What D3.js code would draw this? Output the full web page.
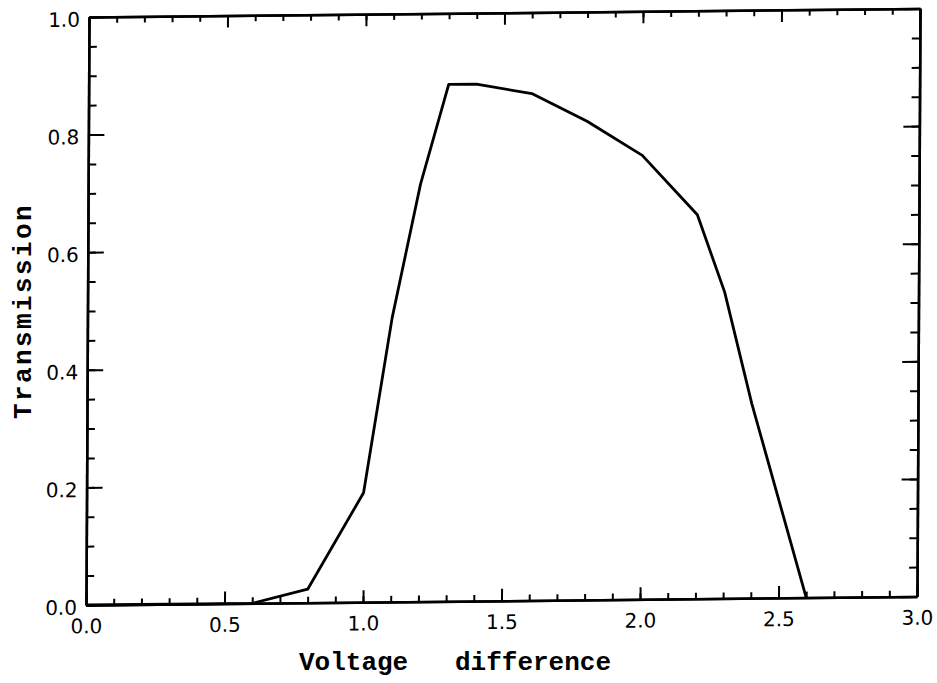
<!DOCTYPE html>
<html>
<head>
<meta charset="utf-8">
<script src="https://cdn.jsdelivr.net/npm/d3@7"></script>
<style>
  html, body { margin: 0; padding: 0; background: #fff; }
  svg { display: block; }
  .tick text { font-family: "DejaVu Sans", sans-serif; font-size: 20px; fill: #000; }
  .title { font-family: "Liberation Mono", "DejaVu Sans Mono", monospace; font-weight: bold; font-size: 26px; fill: #000; white-space: pre; }
</style>
</head>
<body>
<script>
// Data
const voltage = [0.0, 0.6, 0.8, 1.0, 1.1, 1.2, 1.3, 1.4, 1.6, 1.8, 2.0, 2.2, 2.3, 2.4, 2.6];
const transmission = [0.0, 0.0, 0.023, 0.186, 0.483, 0.71, 0.879, 0.879, 0.862, 0.814, 0.755, 0.653, 0.521, 0.331, 0.0];
const xMajorTicks = [0.0, 0.5, 1.0, 1.5, 2.0, 2.5, 3.0];
const xTickLabels = ["0.0", "0.5", "1.0", "1.5", "2.0", "2.5", "3.0"];
const yMajorTicks = [0.0, 0.2, 0.4, 0.6, 0.8, 1.0];
const yTickLabels = ["0.0", "0.2", "0.4", "0.6", "0.8", "1.0"];
const xMinorTicks = d3.range(0, 31).map(i => i / 10);
const yMinorTicks = d3.range(0, 21).map(i => i / 20);
const xTitle = "Voltage   difference";
const yTitle = "Transmission";

const width = 937, height = 683;
const W = 831, H = 588;

const svg = d3.select("body").append("svg")
  .attr("width", width).attr("height", height);

// the scanned original is slightly skewed; reproduce with an affine transform
const g = svg.append("g")
  .attr("transform", "matrix(1,-0.01023,-0.0051,1,89,17)");

const x = d3.scaleLinear().domain([0, 3]).range([0, W]);
const y = d3.scaleLinear().domain([0, 1]).range([H, 0]);

function style(sel) {
  sel.selectAll("path.domain").attr("stroke", "#000").attr("stroke-width", 2.5);
  sel.selectAll(".tick line").attr("stroke", "#000").attr("stroke-width", 2);
}

// minor ticks
g.append("g").attr("transform", `translate(0,${H})`)
  .call(d3.axisBottom(x).tickValues(xMinorTicks).tickSize(-6).tickSizeOuter(0).tickFormat(""))
  .call(style);
g.append("g")
  .call(d3.axisTop(x).tickValues(xMinorTicks).tickSize(-6).tickSizeOuter(0).tickFormat(""))
  .call(style);
g.append("g")
  .call(d3.axisLeft(y).tickValues(yMinorTicks).tickSize(-8).tickSizeOuter(0).tickFormat(""))
  .call(style);
g.append("g").attr("transform", `translate(${W},0)`)
  .call(d3.axisRight(y).tickValues(yMinorTicks).tickSize(-8).tickSizeOuter(0).tickFormat(""))
  .call(style);

// major ticks
g.append("g").attr("transform", `translate(0,${H})`)
  .call(d3.axisBottom(x).tickValues(xMajorTicks).tickSize(-12).tickSizeOuter(0).tickPadding(14)
    .tickFormat((d, i) => xTickLabels[i]))
  .call(style);
g.append("g")
  .call(d3.axisTop(x).tickValues(xMajorTicks).tickSize(-12).tickSizeOuter(0).tickFormat(""))
  .call(style);
g.append("g")
  .call(d3.axisLeft(y).tickValues(yMajorTicks).tickSize(-16).tickSizeOuter(0).tickPadding(9)
    .tickFormat((d, i) => yTickLabels[i]))
  .call(style)
  .selectAll(".tick text").attr("dy", "0.45em");
g.append("g").attr("transform", `translate(${W},0)`)
  .call(d3.axisRight(y).tickValues(yMajorTicks).tickSize(-16).tickSizeOuter(0).tickFormat(""))
  .call(style);

// data line
const line = d3.line().x(d => x(d[0])).y(d => y(d[1]));
g.append("path")
  .datum(voltage.map((v, i) => [v, transmission[i]]))
  .attr("d", line)
  .attr("fill", "none")
  .attr("stroke", "#000")
  .attr("stroke-width", 2.8)
  .attr("stroke-linejoin", "round");

// titles
svg.append("text").attr("class", "title")
  .attr("x", 455).attr("y", 670)
  .attr("text-anchor", "middle")
  .text(xTitle);

svg.append("text").attr("class", "title")
  .attr("transform", "translate(31,311) rotate(-90)")
  .attr("text-anchor", "middle")
  .style("letter-spacing", "2.4px")
  .text(yTitle);
</script>
</body>
</html>
